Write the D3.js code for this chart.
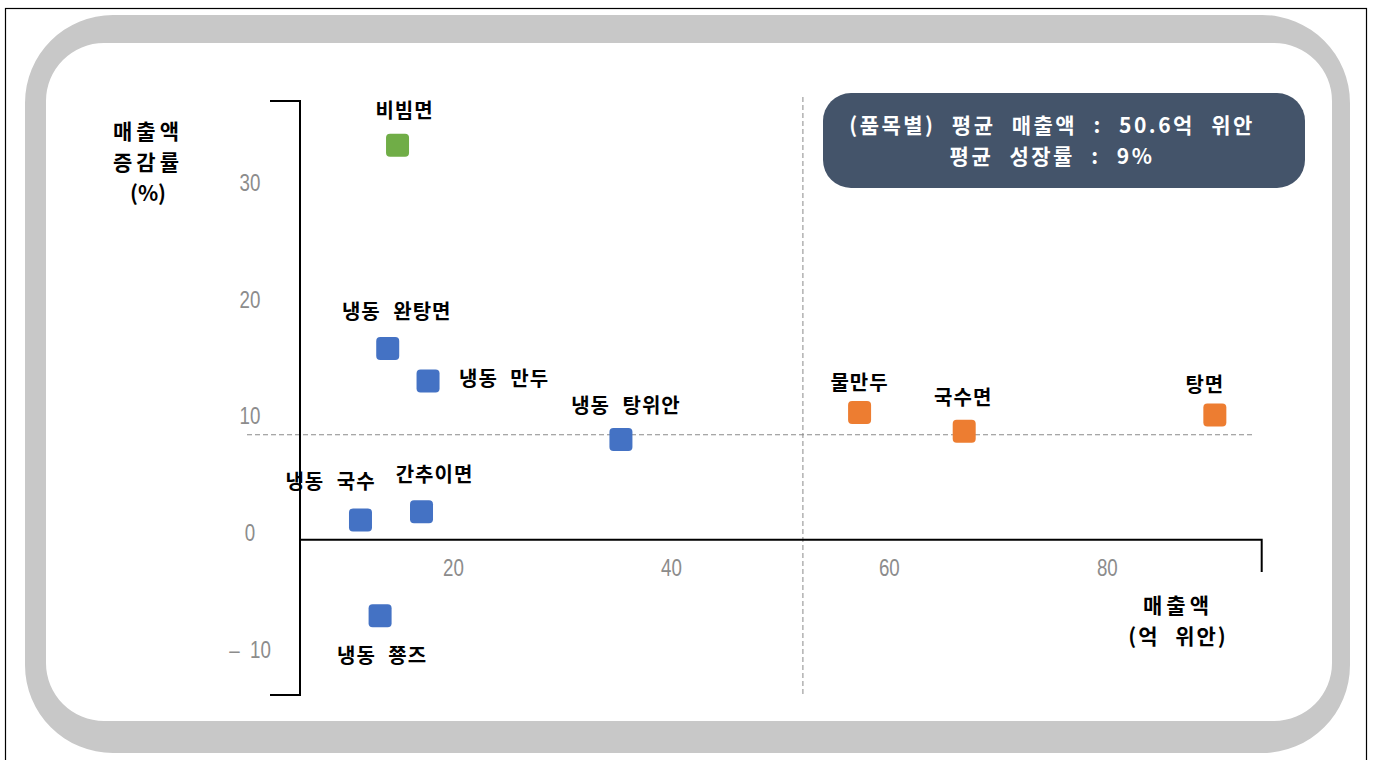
<!DOCTYPE html>
<html><head><meta charset="utf-8">
<script src="https://cdn.jsdelivr.net/npm/d3@7"></script>
<style>
html,body{margin:0;padding:0;background:#fff;}
svg{display:block;}
</style></head>
<body>
<svg id="chart" width="1374" height="760"></svg>
<script>
// ---- data ----
const items    = ["비빔면","냉동 완탕면","냉동 만두","냉동 탕위안","냉동 국수","간추이면","냉동 쭁즈","물만두","국수면","탕면"];
const sales    = [13.4, 12.5, 16.2, 33.9, 10.0, 15.6, 11.8, 55.8, 65.4, 88.4];   // 억 위안
const growth   = [33.8, 16.4, 13.6, 8.6, 1.7, 2.4, -6.5, 10.9, 9.3, 10.7];      // %
const groups   = ["green","blue","blue","blue","blue","blue","blue","orange","orange","orange"];
const xTicks   = [20, 40, 60, 80];
const yTicks   = [30, 20, 10, 0, -10];
const yTickLabels = ["30","20","10","0","–  10"];
const avgSales = 50.6;
const avgGrowth = 9;
const infoLines = ["(품목별) 평균 매출액 : 50.6억 위안", "평균 성장률 : 9%"];

// ---- layout (not data) ----
const labelOffsets = [[7,-34],[9,-36],[31,-2,"start"],[5,-33],[-30,-38],[13,-37],[2,40],[0,-30],[-1,-33],[-10,-30]];
const colorMap = {green:"#70AD47", blue:"#4472C4", orange:"#ED7D31"};

const svg = d3.select("#chart");

// outer thin frame
svg.append("rect").attr("x",5.5).attr("y",8.5).attr("width",1361).attr("height",780)
  .attr("fill","none").attr("stroke","#000").attr("stroke-width",1.2);

// gray rounded band
function rr(x0,y0,x1,y1,r){
  return `M${x0+r},${y0}H${x1-r}A${r},${r} 0 0 1 ${x1},${y0+r}V${y1-r}A${r},${r} 0 0 1 ${x1-r},${y1}H${x0+r}A${r},${r} 0 0 1 ${x0},${y1-r}V${y0+r}A${r},${r} 0 0 1 ${x0+r},${y0}Z`;
}
svg.append("path").attr("d", rr(25,15,1350,753,88) + rr(46,43,1332,721,58))
  .attr("fill","#c8c8c8").attr("fill-rule","evenodd");

// scales
const x = d3.scaleLinear().domain([4.45, 92.7]).range([300, 1261.7]);
const y = d3.scaleLinear().domain([-13.3, 37.6]).range([695, 101]);

// average dashed lines
svg.append("line").attr("x1",x(avgSales)).attr("x2",x(avgSales)).attr("y1",97).attr("y2",695)
  .attr("stroke","#8a8a8a").attr("stroke-width",1).attr("stroke-dasharray","5,3");
svg.append("line").attr("x1",247).attr("x2",1252).attr("y1",y(avgGrowth)).attr("y2",y(avgGrowth))
  .attr("stroke","#8a8a8a").attr("stroke-width",1).attr("stroke-dasharray","5,3");

// axis lines (bracket style)
const ax = svg.append("g").attr("stroke","#000").attr("stroke-width",2).attr("fill","none");
ax.append("path").attr("d",`M270,${y.range()[1]}H${x.range()[0]}V${y.range()[0]}H270`);
ax.append("path").attr("d",`M${x.range()[0]},${y(0)}H${x.range()[1]}V572`);

// tick labels via d3 axes
const xAxis = svg.append("g").attr("transform",`translate(-16.5,${y(0)})`)
  .call(d3.axisBottom(x).tickValues(xTicks).tickSize(0).tickPadding(0));
xAxis.select(".domain").remove();
xAxis.selectAll("text").attr("y",28).attr("dy","0.35em");

const yAxis = svg.append("g").attr("transform",`translate(250,-7)`)
  .call(d3.axisLeft(y).tickValues(yTicks).tickSize(0).tickPadding(0).tickFormat((d,i)=>yTickLabels[i]));
yAxis.select(".domain").remove();
yAxis.selectAll("text").attr("text-anchor","middle").attr("x",0).style("white-space","pre");

const SX = 0.78;
svg.selectAll(".tick text")
  .attr("font-family","'Liberation Sans',sans-serif")
  .attr("font-size",24).attr("fill","#8c8c8c")
  .attr("transform",`scale(${SX},1)`)
  .each(function(){ const t=d3.select(this); t.attr("x", (+t.attr("x")||0)/SX); });

// axis titles
const titleFont = "'Noto Sans CJK KR','Noto Sans',sans-serif";
const yTitle = svg.append("text").attr("font-family",titleFont).attr("font-weight",700)
  .attr("font-size",21).attr("text-anchor","middle").attr("fill","#000");
[["매출액",132,4],["증감률",163,4],["(%)",194,0]].forEach(([t,yy,ls])=>{
  yTitle.append("tspan").attr("x",148).attr("y",yy).attr("dy","0.35em").attr("letter-spacing",ls).text(t);
});
const xTitle = svg.append("text").attr("font-family",titleFont).attr("font-weight",700)
  .attr("font-size",21).attr("text-anchor","middle").attr("fill","#000");
[["매출액",606,4],["(억 위안)",637,2]].forEach(([t,yy,ls])=>{
  xTitle.append("tspan").attr("x",1178).attr("y",yy).attr("dy","0.35em").attr("letter-spacing",ls)
    .attr("word-spacing",9).text(t);
});

// info box
svg.append("rect").attr("x",823).attr("y",93).attr("width",482).attr("height",95)
  .attr("rx",28).attr("fill","#44546A");
infoLines.forEach((t,i)=>{
  svg.append("text").attr("x",1052).attr("y",126+i*31).attr("dy","0.35em")
    .attr("text-anchor","middle").attr("fill","#fff").attr("font-family",titleFont)
    .attr("font-weight",700).attr("font-size",21).attr("word-spacing",9).attr("letter-spacing",2.5).text(t);
});

// points
const data = items.map((n,i)=>({name:n, sx:sales[i], gy:growth[i], g:groups[i], off:labelOffsets[i]}));
const S = 23;
svg.append("g").selectAll("rect").data(data).join("rect")
  .attr("x",d=>x(d.sx)-S/2).attr("y",d=>y(d.gy)-S/2)
  .attr("width",S).attr("height",S).attr("rx",4)
  .attr("fill",d=>colorMap[d.g]);

svg.append("g").selectAll("text").data(data).join("text")
  .attr("x",d=>x(d.sx)+d.off[0]).attr("y",d=>y(d.gy)+d.off[1]).attr("dy","0.35em")
  .attr("text-anchor",d=>d.off[2]||"middle")
  .attr("font-family",titleFont).attr("font-weight",700).attr("font-size",20)
  .attr("word-spacing",7).attr("letter-spacing",1).attr("fill","#000")
  .text(d=>d.name);
</script>
</body></html>
